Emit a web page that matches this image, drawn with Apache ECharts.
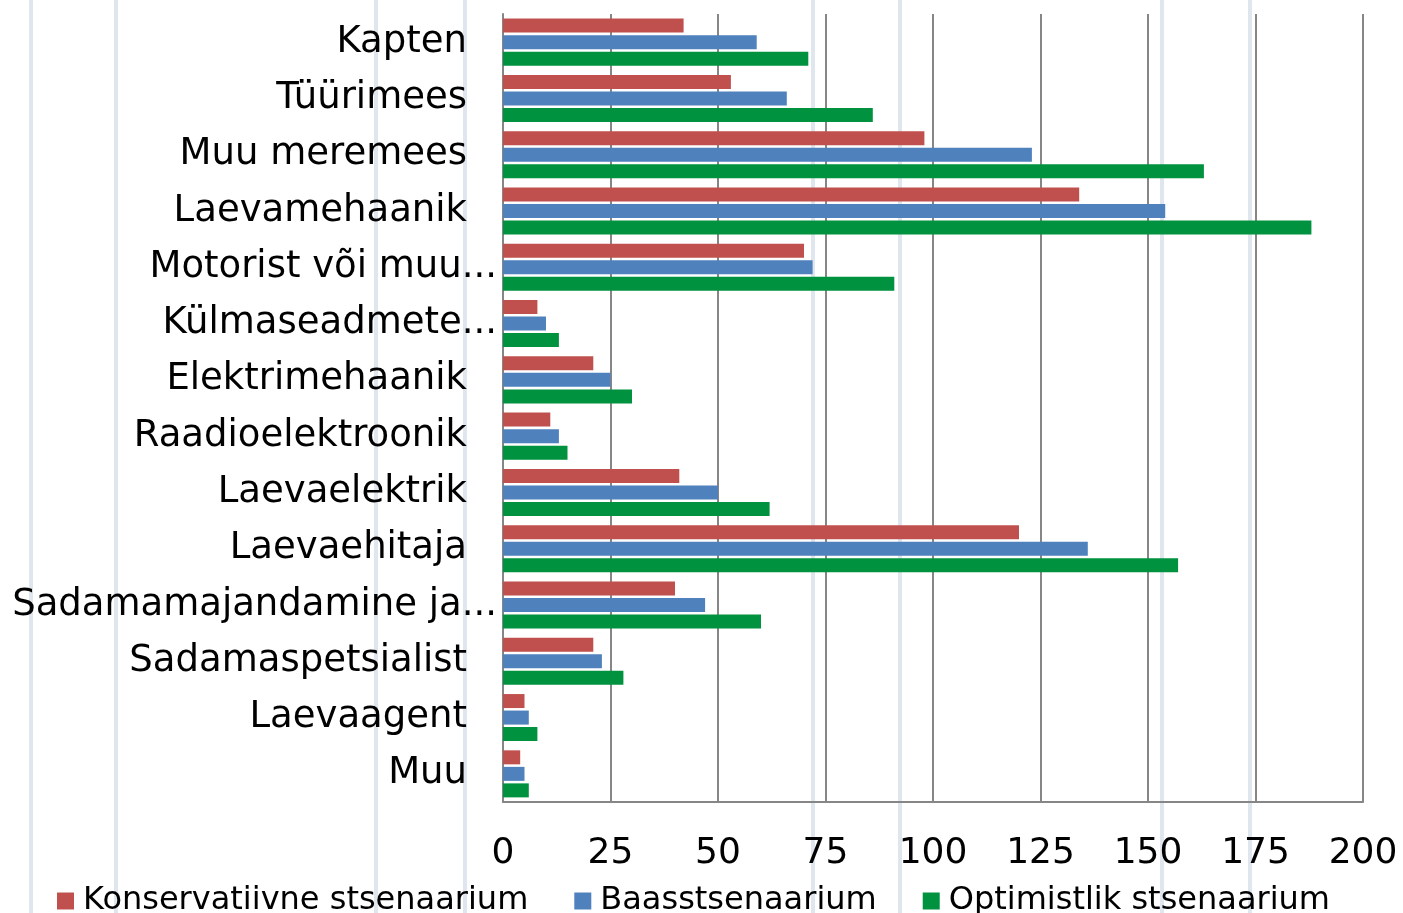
<!DOCTYPE html>
<html>
<head>
<meta charset="utf-8">
<script src="https://cdn.jsdelivr.net/npm/echarts@6/dist/echarts.min.js"></script>
<style>
  html, body { margin: 0; padding: 0; background: #fff; }
  #chart { width: 1403px; height: 913px; }
</style>
</head>
<body>
<div id="chart"></div>
<script>
// kategooriad ülevalt alla
const categories = [
  "Kapten", "Tüürimees", "Muu meremees", "Laevamehaanik",
  "Motorist või muu...", "Külmaseadmete...", "Elektrimehaanik",
  "Raadioelektroonik", "Laevaelektrik", "Laevaehitaja",
  "Sadamamajandamine ja...", "Sadamaspetsialist", "Laevaagent", "Muu",
];
const konservatiivne = [42, 53, 98, 134, 70, 8, 21, 11, 41, 120, 40, 21, 5, 4];
const baas = [59, 66, 123, 154, 72, 10, 25, 13, 50, 136, 47, 23, 6, 5];
const optimistlik = [71, 86, 163, 188, 91, 13, 30, 15, 62, 157, 60, 28, 8, 6];
const xTicks = [0, 25, 50, 75, 100, 125, 150, 175, 200];

const chart = echarts.init(document.getElementById("chart"));

const font = "DejaVu Sans, Verdana, sans-serif";

// taustal olevad heledad püstjooned
const bgLines = [31, 116, 376, 465, 813, 900, 1162, 1250].map((x) => ({
  type: "rect",
  silent: true,
  z: -10,
  shape: { x: x - 2, y: 0, width: 4, height: 913 },
  style: { fill: "#dfe6ee" },
}));

const option = {
  animation: false,
  backgroundColor: "#fff",
  graphic: bgLines,
  color: ["#C0504D", "#4F81BD", "#00923F"],
  grid: { left: 503, right: 40, top: 14, bottom: 111, containLabel: false },
  legend: {
    left: 52,
    top: 880,
    icon: "rect",
    itemWidth: 17,
    itemHeight: 17,
    itemGap: 46,
    textStyle: { fontFamily: font, fontSize: 32, color: "#000", padding: [0, 0, 0, 4] },
  },
  xAxis: {
    type: "value",
    min: 0,
    max: 200,
    interval: 25,
    axisLine: { show: true, lineStyle: { color: "#868686", width: 2 } },
    axisTick: { show: false },
    splitLine: { show: true, lineStyle: { color: "#868686", width: 2 } },
    axisLabel: {
      margin: 34,
      fontFamily: font,
      fontSize: 36,
      color: "#000",
      formatter: (v) => (xTicks.includes(v) ? String(v) : ""),
    },
  },
  yAxis: {
    type: "category",
    data: categories,
    inverse: true,
    axisLine: { show: true, lineStyle: { color: "#868686", width: 2 } },
    axisTick: { show: false },
    splitLine: { show: false },
    axisLabel: {
      margin: 6,
      fontFamily: font,
      fontSize: 37,
      color: "#000",
      formatter: (name) => (name.endsWith("...") ? name : name + "{s|}"),
      rich: { s: { width: 30 } },
    },
  },
  series: [
    { name: "Konservatiivne stsenaarium", type: "bar", data: konservatiivne, barWidth: 14, barGap: "18%" },
    { name: "Baasstsenaarium", type: "bar", data: baas, barWidth: 14, barGap: "18%" },
    { name: "Optimistlik stsenaarium", type: "bar", data: optimistlik, barWidth: 14, barGap: "18%" },
  ],
};

chart.setOption(option);
</script>
</body>
</html>
